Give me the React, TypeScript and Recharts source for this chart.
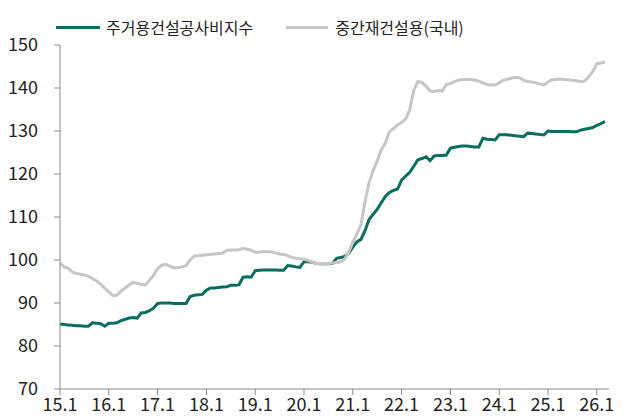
import React from "react";
import { LineChart, Line, XAxis, YAxis } from "recharts";

const seriesNames = ["주거용건설공사비지수", "중간재건설용(국내)"];

const residential = [
  85.1, 85.0, 84.9, 84.8, 84.7, 84.7, 84.6, 84.6, 85.4, 85.3, 85.2, 84.6,
  85.3, 85.3, 85.4, 85.9, 86.2, 86.5, 86.6, 86.5, 87.7, 87.8, 88.2, 88.8,
  89.9, 90.0, 90.0, 90.0, 89.9, 89.9, 89.9, 89.9, 91.5, 91.8, 91.9, 92.0,
  93.0, 93.5, 93.5, 93.6, 93.7, 93.8, 94.1, 94.1, 94.2, 96.0, 96.1, 96.0,
  97.5, 97.6, 97.7, 97.7, 97.7, 97.7, 97.6, 97.6, 98.7, 98.6, 98.4, 98.3,
  99.6, 99.6, 99.5, 99.2, 99.1, 99.1, 99.1, 99.2, 100.4, 100.6, 100.8, 101.6,
  103.0, 104.2, 104.8, 106.8, 109.4, 110.6, 111.8, 113.3, 114.8, 115.7, 116.2, 116.5,
  118.6, 119.5, 120.4, 121.8, 123.3, 123.6, 124.0, 123.1, 124.2, 124.3, 124.3, 124.4,
  126.0, 126.2, 126.4, 126.5, 126.5, 126.4, 126.3, 126.3, 128.3, 128.1, 128.0, 127.9,
  129.1, 129.1, 129.1, 129.0, 128.9, 128.8, 128.7, 129.5, 129.4, 129.3, 129.2, 129.1,
  130.0, 129.9, 129.9, 129.9, 129.9, 129.9, 129.8, 129.8, 130.2, 130.4, 130.6, 130.8,
  131.3, 131.7, 132.2,
];

const intermediate = [
  99.3, 98.4, 98.1, 97.2, 96.9, 96.7, 96.5, 96.2, 95.7, 95.1, 94.4, 93.4,
  92.6, 91.7, 91.8, 92.8, 93.5, 94.2, 94.8, 94.6, 94.3, 94.2, 95.3, 96.4,
  98.0, 98.8, 99.0, 98.6, 98.2, 98.2, 98.4, 98.7, 100.0, 100.9, 101.0, 101.1,
  101.2, 101.3, 101.4, 101.5, 101.6, 102.2, 102.3, 102.3, 102.4, 102.7, 102.5, 102.3,
  101.8, 101.8, 102.0, 101.9, 101.9, 101.6, 101.4, 101.3, 101.0, 100.6, 100.4, 100.3,
  100.2, 99.9, 99.5, 99.2, 99.2, 99.2, 99.2, 99.3, 99.4, 99.6, 100.2, 101.8,
  104.2, 106.0, 108.2, 113.5, 118.0, 120.8, 123.0, 125.6, 127.2, 129.8, 130.6, 131.4,
  132.0, 132.8, 134.9, 139.5, 141.5, 141.3, 140.4, 139.3, 139.2, 139.4, 139.3, 140.8,
  141.0, 141.5, 141.8, 142.0, 142.0, 141.9, 141.8, 141.6, 141.2, 140.8, 140.7, 140.7,
  141.2, 141.8, 142.0, 142.3, 142.5, 142.4, 141.8, 141.5, 141.4, 141.2, 140.9, 140.7,
  141.4, 141.9, 142.0, 142.1, 142.0, 141.9, 141.8, 141.7, 141.5, 141.6, 142.6, 143.8,
  145.6, 145.8, 146.1,
];

const xTickIndex = [0, 12, 24, 36, 48, 60, 72, 84, 96, 108, 120, 132];
const xTickLabels = ["15.1", "16.1", "17.1", "18.1", "19.1", "20.1", "21.1", "22.1", "23.1", "24.1", "25.1", "26.1"];
const yTicks = [70, 80, 90, 100, 110, 120, 130, 140, 150];

const data = residential.map((v, i) => ({ i, a: v, b: intermediate[i] }));

const GREEN = "#0a6e5f";
const GRAY = "#c6c6c6";
const FONT = "'Noto Sans CJK KR', 'Noto Sans', sans-serif";

export default function App() {
  return (
    <div style={{ position: "absolute", left: 0, top: 0, width: 630, height: 420, background: "#fff" }}>
      <div
        style={{
          position: "absolute",
          left: 56,
          top: 13,
          display: "flex",
          alignItems: "center",
          fontFamily: FONT,
          fontSize: 16,
          lineHeight: "28px",
          color: "#222",
          whiteSpace: "nowrap",
          zIndex: 2,
        }}
      >
        <span style={{ display: "inline-block", width: 44, height: 3, background: GREEN, marginRight: 6 }} />
        <span style={{ marginRight: 33 }}>{seriesNames[0]}</span>
        <span style={{ display: "inline-block", width: 42, height: 3, background: GRAY, marginRight: 7 }} />
        <span>{seriesNames[1]}</span>
      </div>
      <LineChart width={630} height={420} data={data} margin={{ top: 45, right: 21, bottom: 6, left: 0 }}>
        <XAxis
          dataKey="i"
          type="number"
          domain={[0, 135]}
          ticks={xTickIndex}
          tickFormatter={(v: number) => xTickLabels[xTickIndex.indexOf(v)]}
          height={25}
          tickSize={6}
          tickMargin={3}
          stroke="#8a8a8a"
          tick={{ fill: "#222", fontSize: 18, fontFamily: FONT }}
          interval={0}
        />
        <YAxis
          type="number"
          domain={[70, 150]}
          ticks={yTicks}
          width={60}
          tickSize={6}
          tickMargin={16}
          stroke="#8a8a8a"
          tick={{ fill: "#222", fontSize: 18, fontFamily: FONT }}
          interval={0}
        />
        <Line type="linear" dataKey="a" stroke={GREEN} strokeWidth={3} dot={false} isAnimationActive={false} />
        <Line type="linear" dataKey="b" stroke={GRAY} strokeWidth={3} dot={false} isAnimationActive={false} />
      </LineChart>
    </div>
  );
}
